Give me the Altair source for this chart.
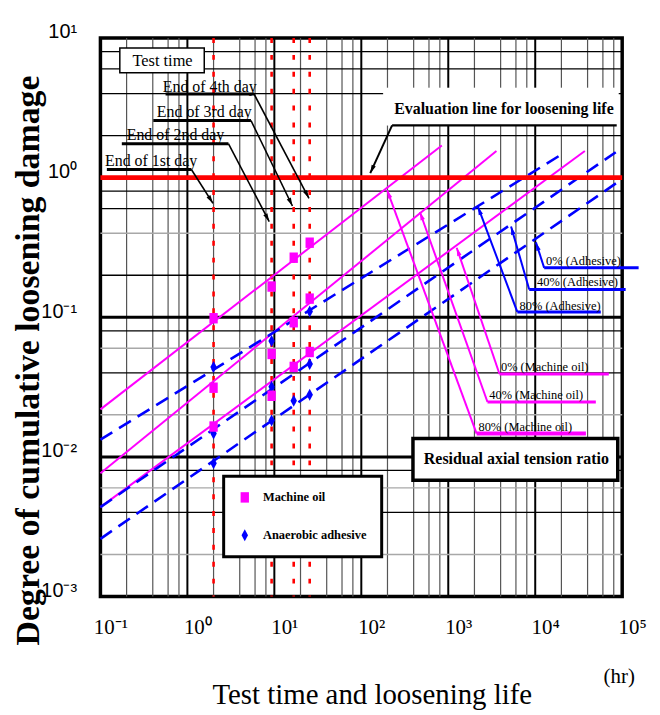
import math
import altair as alt
import pandas as pd

W, H = 525, 562            # plot area (6 x-decades, 4 y-decades)
PX_X, PX_Y = W / 6, H / 4  # pixels per decade

# ---------------- axes ----------------
x_decades = [0.1, 1, 10, 100, 1000, 10000, 100000]
y_decades = [0.001, 0.01, 0.1, 1, 10]
pow_labels = ["10⁻³", "10⁻²", "10⁻¹", "10⁰", "10¹", "10²", "10³", "10⁴", "10⁵"]

x_grid_major = [1, 10, 100, 1000, 10000]
x_grid_minor = [0.2, 0.4, 0.6, 0.8, 2, 4, 6, 8, 20, 40, 60, 80, 200, 400, 600, 800,
                2000, 4000, 6000, 8000, 20000, 40000, 60000, 80000]
y_grid_major = [0.01, 0.1, 1]
y_grid_black = [2, 4, 6, 8, 0.2, 0.6, 0.8, 0.04, 0.08, 0.004, 0.008]
y_grid_gray = [0.4, 0.02, 0.06, 0.002, 0.006]

# ---------------- test times ----------------
test_day_labels = ["End of 1st day", "End of 2nd day", "End of 3rd day", "End of 4th day"]
test_times_hr = [2.0, 9.3, 16.7, 25.5]

# ---------------- measured damage ----------------
oil_80 = [0.0984, 0.166, 0.267, 0.342]
oil_40 = [0.0313, 0.0546, 0.0921, 0.136]
oil_0 = [0.0165, 0.0274, 0.0441, 0.0564]
adh_80 = [0.0441, 0.0675, 0.0921, 0.110]
adh_40 = [0.0147, 0.0318, 0.0441, 0.0463]
adh_0 = [0.0090, 0.0182, 0.0252, 0.0279]

# ---------------- fitted loosening lines ----------------
fit_names = ["80% (Machine oil)", "40% (Machine oil)", "0% (Machine oil)",
             "80% (Adhesive)", "40% (Adhesive)", "0% (Adhesive)"]
fit_material = ["Machine oil"] * 3 + ["Anaerobic adhesive"] * 3
fit_t_start = [0.1, 0.1, 0.1, 0.1, 0.1, 0.1]
fit_d_start = [0.0219, 0.00763, 0.00437, 0.0133, 0.00437, 0.00259]
fit_t_end = [843, 3580, 37200, 20900, 84300, 96100]
fit_d_end = [1.70, 1.55, 1.55, 1.49, 1.52, 0.96]

eval_damage = 1.0

# ---------------- annotation geometry (log10 exponents) ----------------
day_label_x = [-0.417, -0.137, 0.194, 0.257]
day_label_y = [0.082, 0.267, 0.431, 0.616]
day_bar_x1 = [-0.926, -0.754, -0.392, -0.251]
day_bar_x2 = [0.046, 0.472, 0.731, 0.766]
day_bar_y = [0.058, 0.243, 0.409, 0.599]
day_tip_x = [0.294, 0.941, 1.208, 1.398]
day_tip_y = [-0.184, -0.315, -0.203, -0.148]

oil_label_x = [3.886, 4.011, 4.109]
oil_label_y = [-1.811, -1.584, -1.384]
oil_bar_x1 = [3.326, 3.451, 3.589]
oil_bar_x2 = [4.583, 4.697, 4.846]
oil_bar_y = [-1.833, -1.607, -1.406]
oil_tip_x = [2.297, 2.674, 3.097]
oil_tip_y = [-0.089, -0.246, -0.502]

adh_label_x = [4.286, 4.486, 4.554]
adh_label_y = [-0.950, -0.779, -0.623]
adh_bar_x1 = [3.794, 3.931, 4.103]
adh_bar_x2 = [4.754, 5.040, 5.189]
adh_bar_y = [-0.962, -0.801, -0.646]
adh_tip_x = [3.341, 3.722, 4.008]
adh_tip_y = [-0.208, -0.350, -0.464]

MAGENTA = "#ff00ff"
BLUE = "#0000ff"
RED = "#ff0000"
SERIF = "Liberation Serif"

xs = alt.Scale(type="log", domain=[0.1, 1e5], nice=False)
ys = alt.Scale(type="log", domain=[1e-3, 10], nice=False)
label_expr = "[" + ",".join("'%s'" % s for s in pow_labels) + "][round(log(datum.value)/LN10)+3]"


def X(f="x"):
    return alt.X(f + ":Q", scale=xs)


def Y(f="y"):
    return alt.Y(f + ":Q", scale=ys)


x_axis = alt.Axis(values=x_decades, labelExpr=label_expr, grid=False, ticks=False, domain=False,
                  labelFont=SERIF, labelFontSize=21, labelColor="black", labelPadding=20,
                  labelOffset=10, labelFlush=False, labelOverlap=False,
                  title="Test time and loosening life", titleFont=SERIF, titleFontSize=29,
                  titleFontWeight="normal", titleColor="black", titleX=273, titleY=99,
                  titleBaseline="middle", titleAlign="center")
y_axis = alt.Axis(values=y_decades, labelExpr=label_expr, grid=False, ticks=False, domain=False,
                  labelFont="Liberation Sans", labelFontSize=20, labelColor="black", labelPadding=24,
                  labelBaseline="alphabetic", labelFlush=False, labelOverlap=False,
                  title="Degree of cumulative loosening damage", titleFont=SERIF, titleFontSize=34,
                  titleFontWeight="bold", titleColor="black", titleAngle=270, titleX=-72, titleY=324,
                  titleBaseline="middle", titleAlign="center")

layers = []
# axis-carrying layer (invisible)
layers.append(alt.Chart(pd.DataFrame({"x": [0.1, 1e5], "y": [1e-3, 10]})).mark_point(opacity=0)
              .encode(x=alt.X("x:Q", scale=xs, axis=x_axis), y=alt.Y("y:Q", scale=ys, axis=y_axis)))
# grid
layers.append(alt.Chart(pd.DataFrame({"x": x_grid_minor})).mark_rule(color="#555555", strokeWidth=1.2).encode(x=X()))
layers.append(alt.Chart(pd.DataFrame({"x": x_grid_major})).mark_rule(color="black", strokeWidth=2).encode(x=X()))
layers.append(alt.Chart(pd.DataFrame({"y": y_grid_gray})).mark_rule(color="#a8a8a8", strokeWidth=1.5).encode(y=Y()))
layers.append(alt.Chart(pd.DataFrame({"y": y_grid_black})).mark_rule(color="black", strokeWidth=1.3).encode(y=Y()))
layers.append(alt.Chart(pd.DataFrame({"y": y_grid_major})).mark_rule(color="black", strokeWidth=3).encode(y=Y()))

# white boxes behind labels
boxes = pd.DataFrame({
    "x": [10 ** -0.777, 10 ** 2.251, 10 ** 2.594],
    "x2": [10 ** 0.194, 10 ** 4.960, 10 ** 4.949],
    "y": [10 ** 0.751, 10 ** 0.374, 10 ** -2.167],
    "y2": [10 ** 0.929, 10 ** 0.644, 10 ** -1.868],
    "sw": [1.5, 0, 3.5],
})
for sw, g in boxes.groupby("sw"):
    layers.append(alt.Chart(g).mark_rect(fill="white", stroke="black" if sw > 0 else "white",
                                         strokeWidth=float(sw) if sw > 0 else 0.1)
                  .encode(x=X(), x2="x2:Q", y=Y(), y2="y2:Q"))

# test-time red dotted lines
layers.append(alt.Chart(pd.DataFrame({"x": test_times_hr, "day": test_day_labels}))
              .mark_rule(color=RED, strokeWidth=2.6, strokeDash=[5, 12]).encode(x=X()))

# fitted lines
rows = []
for n, m, t0, d0, t1, d1 in zip(fit_names, fit_material, fit_t_start, fit_d_start, fit_t_end, fit_d_end):
    rows.append({"name": n, "material": m, "x": t0, "y": d0})
    rows.append({"name": n, "material": m, "x": t1, "y": d1})
fit_df = pd.DataFrame(rows)
layers.append(alt.Chart(fit_df[fit_df.material == "Machine oil"]).mark_line(color=MAGENTA, strokeWidth=2)
              .encode(x=X(), y=Y(), detail="name:N"))
layers.append(alt.Chart(fit_df[fit_df.material == "Anaerobic adhesive"])
              .mark_line(color=BLUE, strokeWidth=2.6, strokeDash=[14, 8])
              .encode(x=X(), y=Y(), detail="name:N"))

# evaluation line
layers.append(alt.Chart(pd.DataFrame({"y": [eval_damage]})).mark_rule(color=RED, strokeWidth=5).encode(y=Y()))

# measured points
pts = []
for series in (adh_80, adh_40, adh_0):
    for t, d in zip(test_times_hr, series):
        pts.append({"x": t, "y": d, "material": "Anaerobic adhesive"})
for series in (oil_80, oil_40, oil_0):
    for t, d in zip(test_times_hr, series):
        pts.append({"x": t, "y": d, "material": "Machine oil"})
pts_df = pd.DataFrame(pts)
SQUARE = "M-0.8,-1L0.8,-1L0.8,1L-0.8,1Z"
DIAMOND = "M0,-1.15L0.62,0L0,1.15L-0.62,0Z"
mat_domain = ["Machine oil", "Anaerobic adhesive"]
legend = alt.Legend(title=None, orient="none", legendX=124, legendY=441, direction="vertical",
                    fillColor="white", strokeColor="black", padding=15, rowPadding=25,
                    labelFont=SERIF, labelFontSize=12.5, labelFontWeight="bold", labelColor="black",
                    labelOffset=12, symbolSize=110, symbolStrokeWidth=0, symbolOpacity=1)
layers.append(alt.Chart(pts_df).mark_point(filled=True, opacity=1, size=110, strokeWidth=0).encode(
    x=X(), y=Y(),
    color=alt.Color("material:N", scale=alt.Scale(domain=mat_domain, range=[MAGENTA, BLUE]), legend=legend),
    shape=alt.Shape("material:N", scale=alt.Scale(domain=mat_domain, range=[SQUARE, DIAMOND]), legend=legend),
))

# annotation segments
segs = []
arrows = []


def seg(x1, y1, x2, y2, color, w):
    segs.append({"x": 10 ** x1, "y": 10 ** y1, "x2": 10 ** x2, "y2": 10 ** y2, "c": color, "w": w})


def leader(x1, y1, x2, y2, color, w):
    seg(x1, y1, x2, y2, color, w)
    dx = (x2 - x1) * PX_X
    dy = -(y2 - y1) * PX_Y
    ang = math.degrees(math.atan2(dx, -dy)) % 360
    arrows.append({"x": 10 ** x2, "y": 10 ** y2, "ang": ang, "c": color})


for i in range(4):
    seg(day_bar_x1[i], day_bar_y[i], day_bar_x2[i], day_bar_y[i], "black", 3)
    leader(day_bar_x2[i], day_bar_y[i], day_tip_x[i], day_tip_y[i], "black", 1.6)
seg(2.354, 0.374, 4.937, 0.374, "black", 2.2)
leader(2.354, 0.374, 2.103, 0.032, "black", 2)
for i in range(3):
    seg(oil_bar_x1[i], oil_bar_y[i], oil_bar_x2[i], oil_bar_y[i], MAGENTA, 4 if i == 0 else 3)
    leader(oil_bar_x1[i], oil_bar_y[i], oil_tip_x[i], oil_tip_y[i], MAGENTA, 2)
    seg(adh_bar_x1[i], adh_bar_y[i], adh_bar_x2[i], adh_bar_y[i], BLUE, 3)
    leader(adh_bar_x1[i], adh_bar_y[i], adh_tip_x[i], adh_tip_y[i], BLUE, 2)

seg_df = pd.DataFrame(segs)
for (c, w), g in seg_df.groupby(["c", "w"]):
    layers.append(alt.Chart(g).mark_rule(color=c, strokeWidth=float(w))
                  .encode(x=X(), y=Y(), x2="x2:Q", y2="y2:Q"))
ARROW = "M0,0L0.55,2L-0.55,2Z"
arr_df = pd.DataFrame(arrows)
for c, g in arr_df.groupby("c"):
    layers.append(alt.Chart(g).mark_point(shape=ARROW, filled=True, opacity=1, size=70, color=c, strokeWidth=0)
                  .encode(x=X(), y=Y(), angle=alt.Angle("ang:Q", scale=None)))

# texts
texts = []


def txt(s, lx, ly, size, weight="normal", baseline="alphabetic"):
    texts.append({"t": s, "x": 10 ** lx, "y": 10 ** ly, "size": size, "weight": weight, "base": baseline})


txt("Test time", -0.286, 0.836, 16.5, baseline="middle")
for i in range(4):
    txt(test_day_labels[i], day_label_x[i], day_label_y[i], 16)
txt("Evaluation line for loosening life", 3.640, 0.459, 16, "bold")
txt("Residual axial tension ratio", 3.783, -2.018, 16, "bold", "middle")
for i in range(3):
    txt(fit_names[i], oil_label_x[i], oil_label_y[i], 12.5)
    txt(fit_names[3 + i], adh_label_x[i], adh_label_y[i], 12.5)
txt_df = pd.DataFrame(texts)
for (size, weight, base), g in txt_df.groupby(["size", "weight", "base"]):
    layers.append(alt.Chart(g).mark_text(font=SERIF, fontSize=float(size), fontWeight=weight, baseline=base,
                                         align="center", color="black")
                  .encode(x=X(), y=Y(), text="t:N"))

# unit label
layers.append(alt.Chart(pd.DataFrame({"t": ["(hr)"]})).mark_text(font=SERIF, fontSize=21, color="black",
                                                                   align="center", baseline="middle")
              .encode(x=alt.value(522), y=alt.value(643), text="t:N"))

chart = (alt.layer(*layers)
         .properties(width=W, height=H, padding={"left": 3, "top": 12, "right": 5, "bottom": 0})
         .configure_axis(grid=False, ticks=False, domain=False)
         .configure_view(stroke="black", strokeWidth=3.5)
         .configure_legend(strokeWidth=3))

chart.save("out.html", embed_options={"renderer": "svg", "actions": False})
